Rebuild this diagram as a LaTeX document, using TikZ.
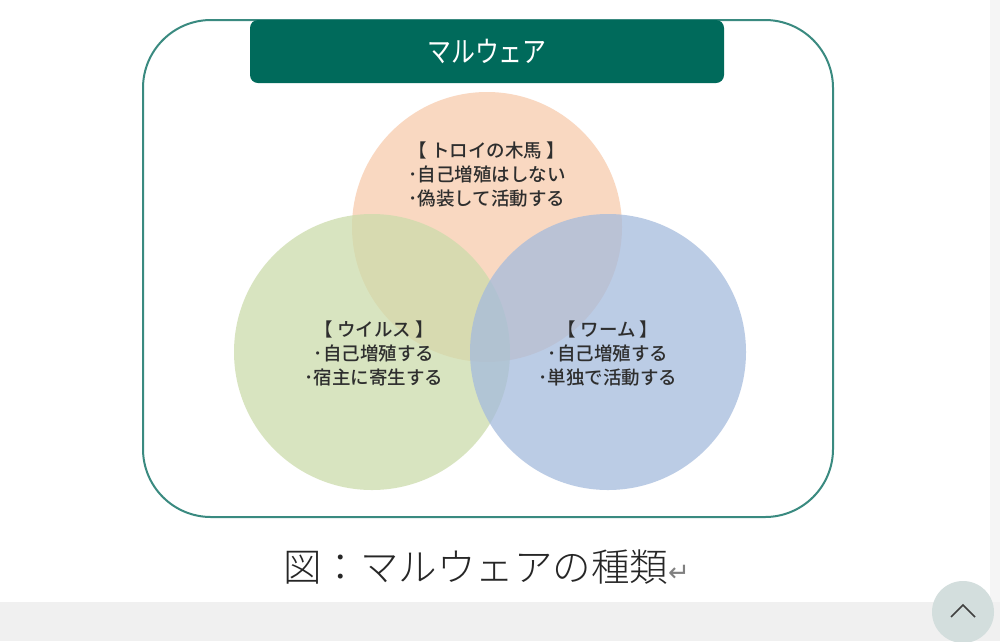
\documentclass[tikz,border=0pt]{standalone}
\usepackage{fontspec}
\setmainfont{Noto Sans CJK JP}
\newfontfamily\jpfont{Noto Sans CJK JP}
\newfontfamily\jpmed{Noto Sans CJK JP}[UprightFont={* Medium}]
\newfontfamily\caplight{Noto Sans CJK JP}[UprightFont={* Light}]
\newfontfamily\symfont{DejaVu Sans}
\definecolor{frame}{HTML}{3A8A80}
\definecolor{hdr}{HTML}{006A5B}
\definecolor{corange}{HTML}{F8CBAD}
\definecolor{cgreen}{HTML}{CCDCAB}
\definecolor{cblue}{HTML}{A5BBDD}
\definecolor{txt}{HTML}{2E2E2E}
\definecolor{band}{HTML}{F0F0F0}
\definecolor{btn}{HTML}{D3DEDD}
\tikzset{
  venn/.style={circle, inner sep=0pt, fill opacity=0.75},
  label/.style={font=\jpmed\fontsize{18.5}{24}\selectfont, text=txt, align=center, inner sep=0pt},
}
\begin{document}
\begin{tikzpicture}[x=1pt,y=-1pt]
\useasboundingbox (0,0) rectangle (1000,641);
\fill[white] (0,0) rectangle (1000,641);
\fill[band!70!white] (990,0) rectangle (1000,602);
\fill[band] (0,602) rectangle (1000,641);
% outer frame
\draw[frame, line width=2pt, rounded corners=68pt] (143,20) rectangle (833,517);
% header
\node[fill=hdr, rounded corners=8pt, minimum width=474pt, minimum height=63pt, inner sep=0pt,
      text=white, font=\jpfont\fontsize{26}{28}\selectfont] (hdr) at (487,51.5) {\scalebox{0.92}[1.12]{マルウェア}};
% circles
\node[venn, fill=corange, minimum size=270pt] (troy) at (487,227) {};
\node[venn, fill=cgreen, minimum size=276pt] (virus) at (372,352) {};
\node[venn, fill=cblue, minimum size=276pt] (worm) at (608,352) {};
% labels
\node[label] (ltroy) at (487,174) {【 トロイの木馬 】\\･自己増殖はしない\\･偽装して活動する};
\node[label] (lvirus) at (374,353) {【 ウイルス 】\\･自己増殖する\\･宿主に寄生する};
\node[label] (lworm) at (608,353) {【 ワーム 】\\･自己増殖する\\･単独で活動する};
% caption
\node[anchor=west, inner sep=0pt, text=black!85, font=\caplight\fontsize{38.5}{42}\selectfont] (cap) at (283,567)
  {図：マルウェアの種類{\symfont\fontsize{26}{28}\selectfont\color{black!50}↵}};
% scroll button
\node[circle, fill=btn, minimum size=62pt, inner sep=0pt] (btn) at (963,612) {};
\coordinate (c1) at ([xshift=-12pt,yshift=-5pt]btn.center);
\coordinate (c2) at ([yshift=7pt]btn.center);
\coordinate (c3) at ([xshift=12pt,yshift=-5pt]btn.center);
\draw[black!75, line width=1.5pt] (c1) -- (c2) -- (c3);
\end{tikzpicture}
\end{document}
